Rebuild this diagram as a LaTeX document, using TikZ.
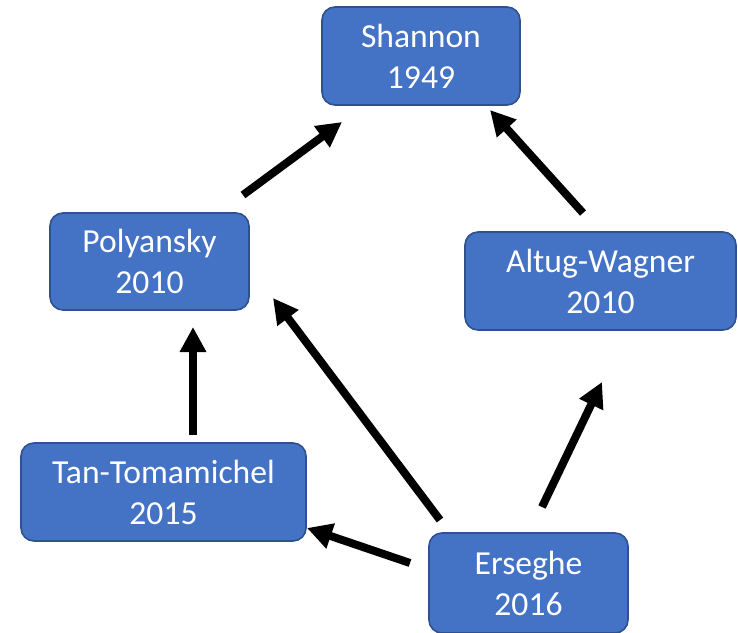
\documentclass[tikz,border=0pt]{standalone}
\usepackage{fontspec}
\setmainfont{Carlito}
\usetikzlibrary{arrows.meta}
\definecolor{boxfill}{HTML}{4472C4}
\definecolor{boxline}{HTML}{2F528F}
\begin{document}
\begin{tikzpicture}[x=1pt,y=-1pt,
  paper/.style={draw=boxline, line width=1.6pt, fill=boxfill, rounded corners=13pt,
    text=white, align=center, inner sep=0pt,
    font=\fontsize{33.6}{41}\selectfont},
  cite/.style={line width=8pt, -{Triangle[length=25pt,width=25pt]}}]
\clip (0,0) rectangle (738,632);
\fill[white] (0,0) rectangle (738,632);

% papers
\node[paper, minimum width=198pt, minimum height=98pt] (shannon) at (421,56) {Shannon\\1949};
\node[paper, minimum width=199pt, minimum height=97pt] (polyansky) at (149.5,261.5) {Polyansky\\2010};
\node[paper, minimum width=271pt, minimum height=98pt] (altug) at (600.5,281) {Altug-Wagner\\2010};
\node[paper, minimum width=285pt, minimum height=98pt] (tan) at (163.5,492) {Tan-Tomamichel\\2015};
\node[paper, minimum width=199pt, minimum height=100pt] (erseghe) at (528.5,583) {Erseghe\\2016};

% arrow ends, kept clear of the boxes
\coordinate (ps0) at (243,195);  \coordinate (ps1) at (342,122);
\coordinate (as0) at (583,213);  \coordinate (as1) at (490,110);
\coordinate (tp0) at (193,435);  \coordinate (tp1) at (193,327);
\coordinate (ea0) at (542,507);  \coordinate (ea1) at (602,382);
\coordinate (ep0) at (440,520);  \coordinate (ep1) at (273,298);
\coordinate (et0) at (410,563);  \coordinate (et1) at (307,528);

% citation links
\draw[cite] (ps0) -- (ps1);
\draw[cite] (as0) -- (as1);
\draw[cite] (tp0) -- (tp1);
\draw[cite] (ea0) -- (ea1);
\draw[cite] (ep0) -- (ep1);
\draw[cite] (et0) -- (et1);
\end{tikzpicture}
\end{document}
